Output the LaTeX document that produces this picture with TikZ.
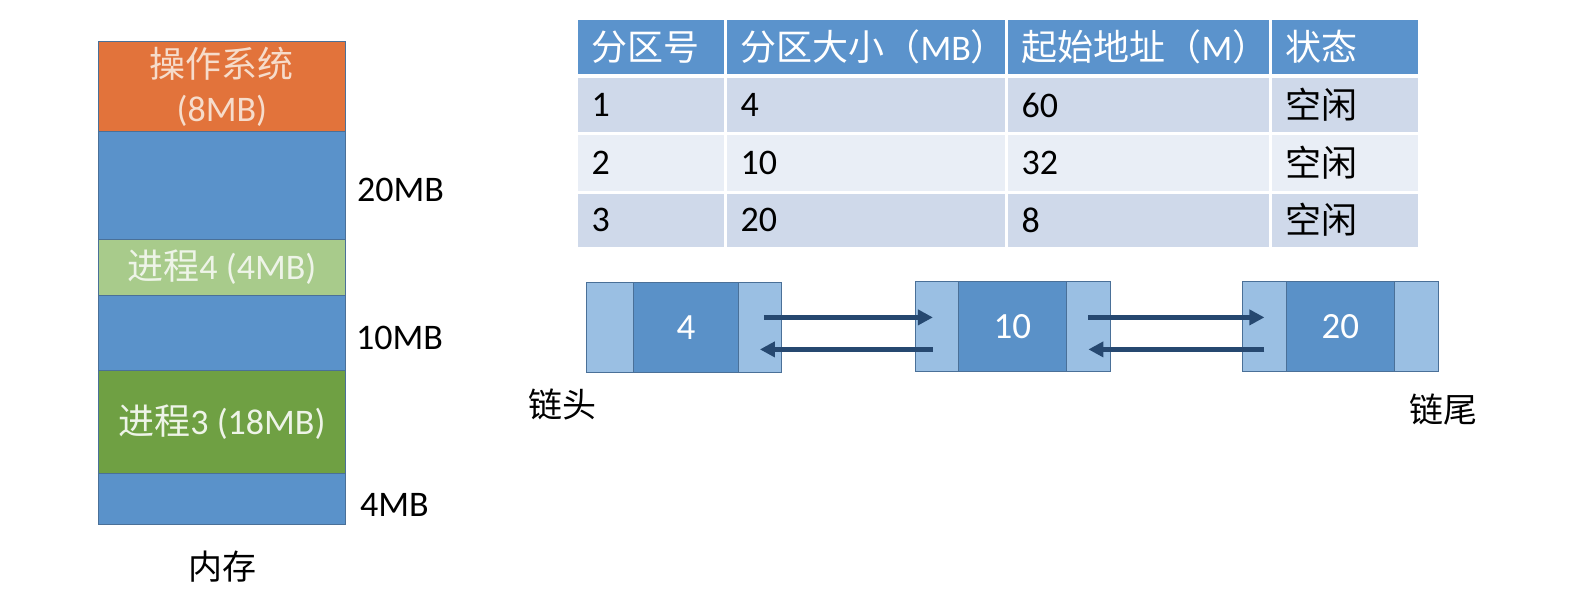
\documentclass[tikz,border=0pt]{standalone}
\usepackage{fontspec}
\setmainfont{Carlito}
\newfontfamily\cjk{Noto Sans CJK SC}
\usetikzlibrary{arrows.meta}
\definecolor{osorange}{HTML}{E2733B}
\definecolor{freeblue}{HTML}{5A92CA}
\definecolor{lightgreen}{HTML}{A8CB8B}
\definecolor{darkgreen}{HTML}{6FA043}
\definecolor{edgeblue}{HTML}{4A7098}
\definecolor{nodelight}{HTML}{9ABFE3}
\definecolor{nodemid}{HTML}{5A91C8}
\definecolor{headblue}{HTML}{5B93CC}
\definecolor{rowdark}{HTML}{CFD9EA}
\definecolor{rowlight}{HTML}{E9EEF6}
\definecolor{arrowc}{HTML}{264870}
\definecolor{ostext}{HTML}{F6DCCB}
\definecolor{gtext}{HTML}{EEF4E8}
\begin{document}
\begin{tikzpicture}[x=1pt,y=-1pt,
  blk/.style={draw=edgeblue,line width=0.8pt,inner sep=0pt,anchor=north west,minimum width=247pt,
    font=\fontsize{36}{44}\selectfont,align=center},
  lbl/.style={inner sep=0pt,anchor=west,font=\fontsize{36}{40}\selectfont,text=black},
  captxt/.style={inner sep=0pt,font=\fontsize{34}{40}\selectfont,text=black},
  cell/.style={draw=white,line width=3pt,anchor=north west,inner xsep=15pt,inner ysep=0pt,
    font=\fontsize{36}{40}\selectfont,align=left},
  hcell/.style={cell,fill=headblue,text=white},
  part/.style={draw=edgeblue,line width=0.8pt,inner sep=0pt,anchor=north west,minimum height=90pt,
    font=\fontsize{37}{40}\selectfont,text=white},
  arr/.style={draw=arrowc,line width=4.6pt,-{Triangle[length=15pt,width=15pt]}}]
\useasboundingbox (0,0) rectangle (1592,592);
\fill[white] (0,0) rectangle (1592,592);

% memory column
\node[blk,fill=osorange,minimum height=90pt,text=ostext] (os) at (98,41) {{\cjk 操作系统}\\(8MB)};
\node[blk,fill=freeblue,minimum height=108pt] (f1) at (98,131) {};
\node[blk,fill=lightgreen,minimum height=56pt,text=gtext] (p4) at (98,239) {{\cjk 进程}4 (4MB)};
\node[blk,fill=freeblue,minimum height=75pt] (f2) at (98,295) {};
\node[blk,fill=darkgreen,minimum height=103pt,text=gtext] (p3) at (98,370) {{\cjk 进程}3 (18MB)};
\node[blk,fill=freeblue,minimum height=51pt] (f3) at (98,473) {};
\node[lbl] (l20) at (357,190) {20MB};
\node[lbl] (l10) at (356,338) {10MB};
\node[lbl] (l4) at (360,505) {4MB};
\node[captxt] (mem) at (222,567) {\cjk 内存};

% table
\node[hcell,text width=119pt,minimum height=56.5pt] (h1) at (575,17) {\cjk 分区号};
\node[hcell,text width=251pt,minimum height=56.5pt] (h2) at (724,17) {{\cjk 分区大小（}MB{\cjk ）}};
\node[hcell,text width=234pt,minimum height=56.5pt] (h3) at (1005,17) {{\cjk 起始地址（}M{\cjk ）}};
\node[hcell,text width=119pt,minimum height=56.5pt] (h4) at (1269,17) {\cjk 状态};

\node[cell,fill=rowdark,text width=119pt,minimum height=58pt] (a1) at (575,74.5) {1};
\node[cell,fill=rowdark,text width=251pt,minimum height=58pt] (a2) at (724,74.5) {4};
\node[cell,fill=rowdark,text width=234pt,minimum height=58pt] (a3) at (1005,74.5) {60};
\node[cell,fill=rowdark,text width=119pt,minimum height=58pt] (a4) at (1269,74.5) {\cjk 空闲};

\node[cell,fill=rowlight,text width=119pt,minimum height=59pt] (b1) at (575,131.5) {2};
\node[cell,fill=rowlight,text width=251pt,minimum height=59pt] (b2) at (724,131.5) {10};
\node[cell,fill=rowlight,text width=234pt,minimum height=59pt] (b3) at (1005,131.5) {32};
\node[cell,fill=rowlight,text width=119pt,minimum height=59pt] (b4) at (1269,131.5) {\cjk 空闲};

\node[cell,fill=rowdark,text width=119pt,minimum height=56pt] (c1) at (575,190.5) {3};
\node[cell,fill=rowdark,text width=251pt,minimum height=56pt] (c2) at (724,190.5) {20};
\node[cell,fill=rowdark,text width=234pt,minimum height=56pt] (c3) at (1005,190.5) {8};
\node[cell,fill=rowdark,text width=119pt,minimum height=56pt] (c4) at (1269,190.5) {\cjk 空闲};

% linked list
\node[part,fill=nodelight,minimum width=47pt] (n1l) at (586,282) {};
\node[part,fill=nodemid,minimum width=105pt] (n1m) at (633,282) {4};
\node[part,fill=nodelight,minimum width=43pt] (n1r) at (738,282) {};

\node[part,fill=nodelight,minimum width=43pt] (n2l) at (915,281) {};
\node[part,fill=nodemid,minimum width=108pt] (n2m) at (958,281) {10};
\node[part,fill=nodelight,minimum width=44pt] (n2r) at (1066,281) {};

\node[part,fill=nodelight,minimum width=44pt] (n3l) at (1242,281) {};
\node[part,fill=nodemid,minimum width=108pt] (n3m) at (1286,281) {20};
\node[part,fill=nodelight,minimum width=44pt] (n3r) at (1394,281) {};

\draw[arr] ([xshift=4pt,yshift=10pt]n1r.center) -- ([xshift=-4pt,yshift=9pt]n2l.center);
\draw[arr] ([xshift=-4pt,yshift=-23pt]n2l.center) -- ([xshift=0pt,yshift=-22pt]n1r.center);
\draw[arr] ([yshift=9pt]n2r.center) -- ([yshift=9pt]n3l.center);
\draw[arr] ([yshift=-23pt]n3l.center) -- ([yshift=-23pt]n2r.center);

\node[captxt] (head) at (562,404) {\cjk 链头};
\node[captxt] (tail) at (1443,409) {\cjk 链尾};
\end{tikzpicture}
\end{document}
